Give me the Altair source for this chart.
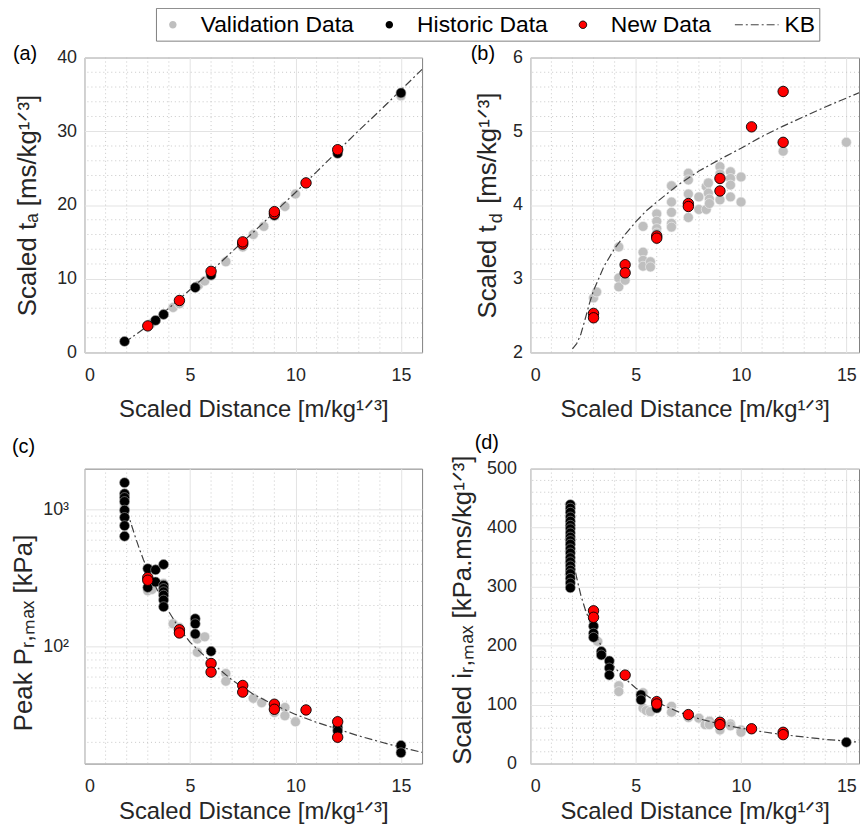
import altair as alt
import pandas as pd

FONT = "Liberation Sans"
TXT = "#262626"
GRID = "#e3e3e3"
MINOR = "#c2c2c2"

SERIES = ["Validation Data", "Historic Data", "New Data", "KB"]
SERIES_COLORS = ["#bfbfbf", "#000000", "#ff0000", "#404040"]

X_TICKS = [0, 5, 10, 15]
X_MINOR = [1, 2, 3, 4, 6, 7, 8, 9, 11, 12, 13, 14]

# ---------------- (a) scaled arrival time ----------------
a_val_x = [3.15, 4.2, 4.5, 5.4, 5.7, 6.0, 6.7, 7.5, 8.0, 8.5, 9.0, 9.5, 10.0, 12.0, 15.0]
a_val_y = [3.9, 6.1, 6.6, 9.1, 9.7, 10.4, 12.3, 14.3, 16.0, 17.1, 18.5, 19.8, 21.5, 27.1, 34.8]
a_his_x = [1.9, 3.37, 3.75, 5.25, 6.0, 9.0, 12.0, 15.0]
a_his_y = [1.5, 4.35, 5.15, 8.8, 10.5, 18.6, 27.0, 35.2]
a_new_x = [3.0, 4.5, 6.0, 7.5, 7.5, 9.0, 9.0, 10.5, 12.0]
a_new_y = [3.6, 7.05, 11.0, 14.7, 15.0, 18.8, 19.1, 23.0, 27.5]
a_kb_x = [1.9, 2, 3, 4, 5, 6, 7, 8, 9, 10, 11, 12, 13, 14, 15, 16]
a_kb_y = [1.3, 1.55, 3.6, 6.0, 8.5, 11.0, 13.7, 16.3, 19.0, 21.7, 24.5, 27.3, 30.1, 32.8, 35.6, 38.4]
A_Y_TICKS = [0, 10, 20, 30, 40]
A_Y_MINOR = [2, 4, 6, 8, 12, 14, 16, 18, 22, 24, 26, 28, 32, 34, 36, 38]

# ---------------- (b) scaled positive phase duration ----------------
b_val_x = [3.0, 3.15, 4.2, 4.2, 4.2, 4.5, 5.35, 5.35, 5.35, 5.35, 5.7, 5.7, 6.0, 6.0, 6.0, 6.0,
           6.7, 6.7, 6.7, 6.7, 6.7, 7.5, 7.5, 7.5, 7.5, 8.0, 8.0, 8.35, 8.35, 8.45, 8.45, 8.5, 8.5,
           9.0, 9.0, 9.0, 9.5, 9.5, 9.5, 9.5, 10.0, 10.0, 12.0, 15.0]
b_val_y = [2.74, 2.82, 3.43, 3.01, 2.89, 2.98, 3.71, 3.36, 3.25, 3.17, 3.23, 3.16, 3.88, 3.78, 3.68, 3.62,
           4.26, 4.04, 3.90, 3.75, 3.70, 4.43, 4.34, 4.15, 3.83, 4.11, 3.94, 3.94, 4.25, 4.30, 4.16, 4.08, 4.02,
           4.52, 4.42, 4.07, 4.45, 4.36, 4.27, 4.11, 4.38, 4.04, 4.73, 4.85]
b_new_x = [3.0, 3.0, 4.5, 4.5, 6.0, 6.0, 7.5, 7.5, 9.0, 9.0, 10.5, 12.0, 12.0]
b_new_y = [2.53, 2.47, 3.19, 3.08, 3.58, 3.55, 4.02, 3.98, 4.36, 4.19, 5.06, 5.54, 4.85]
b_kb_x = [2.0, 2.2, 2.4, 2.6, 2.8, 3.0, 3.5, 4.0, 4.5, 5.0, 5.5, 6.0, 7.0, 8.0, 9.0, 10.0,
          11.0, 12.0, 13.0, 14.0, 15.0, 16.0]
b_kb_y = [2.05, 2.12, 2.25, 2.45, 2.66, 2.84, 3.17, 3.41, 3.60, 3.77, 3.92, 4.04, 4.27, 4.46, 4.62, 4.77,
          4.93, 5.07, 5.20, 5.33, 5.45, 5.57]
B_Y_TICKS = [2, 3, 4, 5, 6]
B_Y_MINOR = [2.2, 2.4, 2.6, 2.8, 3.2, 3.4, 3.6, 3.8, 4.2, 4.4, 4.6, 4.8, 5.2, 5.4, 5.6, 5.8]

# ---------------- (c) peak reflected pressure ----------------
c_val_x = [1.9, 1.9, 1.9, 3.0, 3.2, 3.75, 3.75, 3.75, 3.75, 3.75, 4.2, 4.5, 5.35, 5.35, 5.7,
           6.7, 6.7, 8.0, 8.4, 9.0, 9.5, 9.5, 10.0, 12.0, 15.0]
c_val_y = [1100, 1040, 960, 256, 262, 290, 275, 258, 243, 228, 147, 138, 114, 91, 118,
           63.7, 56, 42, 39, 33, 36, 31.3, 28.3, 23, 18]
c_his_x = [1.9, 1.9, 1.9, 1.9, 1.9, 1.9, 1.9, 1.9, 3.0, 3.0, 3.37, 3.37,
           3.75, 3.75, 3.75, 3.75, 3.75, 3.75, 3.75, 5.25, 5.25, 5.25, 6.0, 12.0, 12.0, 15.0, 15.0]
c_his_y = [1580, 1310, 1230, 1150, 995, 880, 766, 641, 372, 271, 365, 297,
           399, 281, 266, 252, 238, 219, 196, 160, 147, 124, 92.5, 25.8, 24.3, 19.0, 16.8]
c_new_x = [3.0, 3.0, 4.5, 4.5, 6.0, 6.0, 7.5, 7.5, 9.0, 9.0, 10.5, 12.0, 12.0]
c_new_y = [320, 306, 133, 126, 75.4, 65.2, 52.1, 46.6, 38, 34.9, 34.5, 28.3, 21.8]
c_kb_x = [2.0, 2.2, 2.4, 2.6, 2.8, 3.0, 3.5, 4.0, 4.5, 5.0, 6.0, 7.0, 8.0, 9.0, 10.0,
          11.0, 12.0, 13.0, 14.0, 15.0, 16.0]
c_kb_y = [1000, 800, 640, 520, 430, 365, 250, 180, 135, 108, 77, 57, 45, 37.5, 32,
          28, 25, 22.3, 20.2, 18.4, 16.9]
C_Y_TICKS = [100, 1000]
C_Y_MINOR = [20, 30, 40, 50, 60, 70, 80, 90, 200, 300, 400, 500, 600, 700, 800, 900]

# ---------------- (d) scaled reflected impulse ----------------
d_val_x = [1.9, 1.9, 1.9, 3.2, 4.2, 4.2, 5.35, 5.35, 5.5, 5.7, 6.7, 6.7, 7.5, 8.0, 8.3,
           8.5, 8.5, 9.0, 9.5, 9.5, 10.0, 10.0]
d_val_y = [370, 340, 310, 207, 132, 122, 120, 94, 90, 88, 97, 87, 78, 77, 66,
           72, 66, 57, 67, 64, 57, 53]
d_his_x = [1.9] * 21 + [3.0, 3.0, 3.0, 3.37, 3.37, 3.75, 3.75, 3.75, 5.25, 5.25, 6.0, 15.0]
d_his_y = [439, 433, 426, 418, 411, 404, 398, 391, 384, 378, 372, 364, 357, 349, 342, 335, 328,
           322, 314, 306, 298, 233, 221, 214, 190, 184, 174, 162, 150, 116.5, 108, 94, 36]
d_new_x = [3.0, 3.0, 4.5, 6.0, 6.0, 7.5, 9.0, 9.0, 10.5, 12.0, 12.0]
d_new_y = [259, 248, 150, 105, 101, 83, 70, 66, 59, 53, 49]
d_kb_x = [2.0, 2.2, 2.4, 2.6, 2.8, 3.0, 3.5, 4.0, 4.5, 5.0, 6.0, 7.0, 8.0, 9.0, 10.0,
          11.0, 12.0, 13.0, 14.0, 15.0, 16.0]
d_kb_y = [350, 315, 285, 262, 243, 225, 190, 163, 144, 128, 104, 88, 76, 67, 60,
          54, 49, 45, 41, 38, 35]
D_Y_TICKS = [0, 100, 200, 300, 400, 500]
D_Y_MINOR = [20, 40, 60, 80, 120, 140, 160, 180, 220, 240, 260, 280, 320, 340, 360, 380,
             420, 440, 460, 480]

X_TITLE = "Scaled Distance [m/kg¹ᐟ³]"
NBSP = "\u00a0"


def frame(xs, ys, series):
    return pd.DataFrame({"x": xs, "y": ys, "series": series})


color_scale = alt.Scale(domain=SERIES, range=SERIES_COLORS)


def sel(expr_map, default):
    out = repr(default)
    for k, v in reversed(list(expr_map.items())):
        out = f"datum.value === {k!r} ? {v!r} : ({out})"
    return out


legend = alt.Legend(
    orient="none", legendX=72, legendY=-50, direction="horizontal", columns=4,
    title=None, padding=4, strokeColor="#808080", fillColor="white",
    labelFont=FONT, labelFontSize=23, labelColor="black", labelOffset=15,
    columnPadding=22, symbolSize=625, symbolStrokeWidth=1, symbolOpacity=1,
    symbolType={"expr": sel({"KB": "M-1.76,0L1.76,0"},
                            "M0.3,0A0.3,0.3,0,1,1,-0.3,0A0.3,0.3,0,1,1,0.3,0Z")},
    symbolStrokeColor={"expr": sel({"New Data": "#000000", "KB": SERIES_COLORS[3]}, "transparent")},
    symbolDash={"expr": "datum.value === 'KB' ? [8, 3, 2, 3] : [1, 0]"},
)


def x_axis(title_y):
    return alt.Axis(values=X_TICKS, grid=True, gridColor=GRID, domain=False, ticks=False, tickSize=0,
                    labelPadding=14, labelFontSize=18, labelFont=FONT, labelColor=TXT,
                    title=X_TITLE, titleFont=FONT, titleFontSize=24, titleFontWeight="normal",
                    titleColor=TXT, titleBaseline="alphabetic", titleY=title_y)


def y_axis(values, title, title_x, title_y, label_pad=8, label_expr=None):
    kw = dict(orient="left", values=values, grid=True, gridColor=GRID, domain=False, ticks=False,
              tickSize=0, labelPadding=label_pad, labelFontSize=18, labelFont=FONT, labelColor=TXT,
              title=title, titleFont=FONT, titleFontSize=26, titleFontWeight="normal",
              titleColor=TXT, titleAngle=270, titleBaseline="bottom", titleAlign="center",
              titleX=title_x, titleY=title_y)
    if label_expr:
        kw["labelExpr"] = label_expr
    return alt.Axis(**kw)


def panel(label, lab_dx, lab_dy, width, height, xdom, ydom, ylog, xax, yax, ymin,
          val, kb, his, new, sub=None):
    xs = alt.Scale(domain=xdom, nice=False, zero=False)
    if ylog:
        ys = alt.Scale(type="log", domain=ydom, nice=False)
    else:
        ys = alt.Scale(domain=ydom, nice=False, zero=False)
    X = alt.X("x:Q", scale=xs, axis=xax)
    Y = alt.Y("y:Q", scale=ys, axis=yax)
    col = alt.Color("series:N", scale=color_scale, legend=legend)
    xminor = alt.Chart(pd.DataFrame({"x": X_MINOR})).mark_rule(
        color=MINOR, strokeDash=[1, 3], strokeWidth=0.9).encode(x=X)
    rest = [
        alt.Chart(val).mark_circle(size=100, opacity=1, stroke="#f2f2f2", strokeWidth=0.6).encode(
            x=X, y=Y, color=col),
        alt.Chart(kb).mark_line(color="#404040", strokeWidth=1.2, strokeDash=[8, 3, 2, 3],
                                clip=True).encode(x=X, y=Y),
    ]
    if his is not None:
        rest.append(alt.Chart(his).mark_circle(size=100, opacity=1, stroke="#9a9a9a",
                                               strokeWidth=0.6).encode(x=X, y=Y, color=col))
    rest.append(alt.Chart(new).mark_circle(size=110, opacity=1, stroke="#000000",
                                           strokeWidth=0.9).encode(x=X, y=Y, color=col))
    title = alt.TitleParams(label, anchor="start", frame="group", orient="top", offset=0,
                            dx=lab_dx, dy=lab_dy, fontSize=20, font=FONT,
                            fontWeight="normal", color="black", baseline="bottom")
    if sub is None:
        yminor = alt.Chart(pd.DataFrame({"y": ymin})).mark_rule(
            color=MINOR, strokeDash=[1, 3], strokeWidth=0.9).encode(y=Y)
        ch = alt.layer(xminor, yminor, *rest)
    else:
        text, sx, sy = sub
        sub_axis = alt.Axis(orient="left", title=text, labels=False, ticks=False, domain=False,
                            grid=False, titleX=sx, titleY=sy, titleAngle=270,
                            titleBaseline="bottom", titleAlign="center", titleFont=FONT,
                            titleFontSize=18, titleFontWeight="normal", titleColor=TXT)
        yminor = alt.Chart(pd.DataFrame({"y": ymin})).mark_rule(
            color=MINOR, strokeDash=[1, 3], strokeWidth=0.9).encode(
            y=alt.Y("y:Q", scale=ys, axis=sub_axis))
        ch = alt.layer(yminor, alt.layer(xminor, *rest)).resolve_axis(y="independent")
    return ch.properties(width=width, height=height, title=title)


W1, W2, H = 340, 331, 297

pa = panel("(a)", -72, 35, W1, H, [0, 16], [0, 40], False, x_axis(64),
           y_axis(A_Y_TICKS, "Scaled tₐ [ms/kg¹ᐟ³]", -44.5, H / 2), A_Y_MINOR,
           frame(a_val_x, a_val_y, "Validation Data"), frame(a_kb_x, a_kb_y, "KB"),
           frame(a_his_x, a_his_y, "Historic Data"), frame(a_new_x, a_new_y, "New Data"))

pb = panel("(b)", -60, 35, W2, H, [0, 15.6], [2, 6], False, x_axis(64),
           y_axis(B_Y_TICKS, "Scaled t" + NBSP + NBSP + " [ms/kg¹ᐟ³]", -30, H / 2), B_Y_MINOR,
           frame(b_val_x, b_val_y, "Validation Data"), frame(b_kb_x, b_kb_y, "KB"),
           None, frame(b_new_x, b_new_y, "New Data"), sub=("d", -25, 161.5))

pc = panel("(c)", -73, 9, W1, H, [0, 16], [14, 2000], True, x_axis(55),
           y_axis(C_Y_TICKS, "Peak Pᵣ,ₘₐₓ [kPa]", -48.5, 165, label_pad=16,
                  label_expr="datum.value == 100 ? '10²' : '10³'"), C_Y_MINOR,
           frame(c_val_x, c_val_y, "Validation Data"), frame(c_kb_x, c_kb_y, "KB"),
           frame(c_his_x, c_his_y, "Historic Data"), frame(c_new_x, c_new_y, "New Data"))

pd_ = panel("(d)", -56, 18, W2, H, [0, 15.6], [0, 500], False, x_axis(55),
            y_axis(D_Y_TICKS, "Scaled iᵣ,ₘₐₓ [kPa.ms/kg¹ᐟ³]", -55.5, 142, label_pad=14), D_Y_MINOR,
            frame(d_val_x, d_val_y, "Validation Data"), frame(d_kb_x, d_kb_y, "KB"),
            frame(d_his_x, d_his_y, "Historic Data"), frame(d_new_x, d_new_y, "New Data"))

chart = alt.concat(pa, pb, pc, pd_, columns=2, spacing={"row": 117, "column": 109},
                   bounds="flush").resolve_scale(color="shared").properties(
    padding={"left": 2, "top": -4, "right": 0, "bottom": 0}, background="white"
).configure_view(stroke="#808080", strokeWidth=1)

chart.save("out.html", embed_options={"renderer": "svg", "actions": False})
